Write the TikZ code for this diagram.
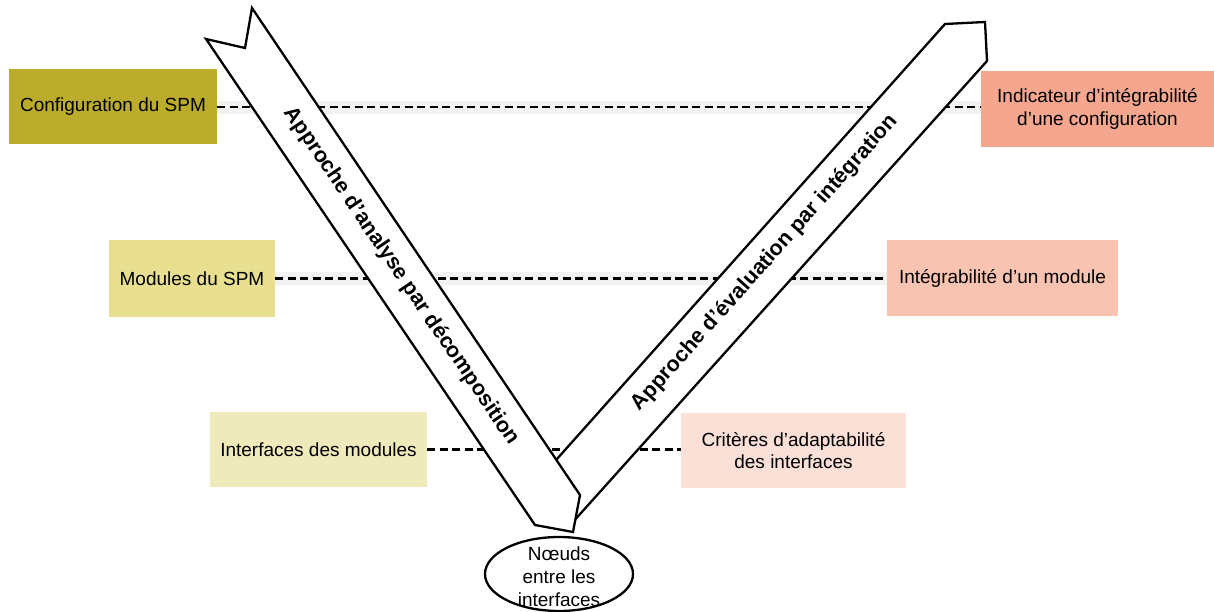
\documentclass[tikz,border=0pt]{standalone}
\usepackage{fontspec}
\setmainfont{Liberation Sans}
\usetikzlibrary{shapes.geometric}
\definecolor{cA}{HTML}{BBAD2B}
\definecolor{cB}{HTML}{E8DF90}
\definecolor{cC}{HTML}{EFEABB}
\definecolor{cD}{HTML}{F4A68F}
\definecolor{cE}{HTML}{F8C3B0}
\definecolor{cF}{HTML}{FBE0D7}
\tikzset{
  box/.style={draw=none, inner sep=0pt, align=center, font=\fontsize{19}{22.5}\selectfont},
  dashline/.style={line width=2.5pt, dash pattern=on 8pt off 4.5pt},
  band/.style={black!5},
  bigarrow/.style={draw=black, fill=white, line width=2.3pt, line join=miter},
  arrowlabel/.style={font=\bfseries\fontsize{21.5}{24}\selectfont, inner sep=0pt},
}
\begin{document}
\begin{tikzpicture}[x=1pt,y=-1pt]
\useasboundingbox (0,0) rectangle (1214,612);
% boxes
\node[box, fill=cA, minimum width=208pt, minimum height=75pt] (b1) at (113,106.5) {Configuration du SPM};
\node[box, fill=cB, minimum width=166pt, minimum height=77pt] (b2) at (192,278.5) {Modules du SPM};
\node[box, fill=cC, minimum width=217pt, minimum height=75pt] (b3) at (318.5,449.5) {Interfaces des modules};
\node[box, fill=cD, minimum width=233pt, minimum height=76pt] (b4) at (1097.5,109) {Indicateur d’intégrabilité\\d’une configuration};
\node[box, fill=cE, minimum width=231pt, minimum height=76pt] (b5) at (1002.5,278) {Intégrabilité d’un module};
\node[box, fill=cF, minimum width=225pt, minimum height=75pt] (b6) at (793.5,450.5) {Critères d’adaptabilité\\des interfaces};
% faint bands
\fill[band] (217,101) rectangle (981,114);
\fill[band] (275,272) rectangle (887,285);
% dashed connectors
\coordinate (d1) at (217,107);
\coordinate (d2) at (275,278.5);
\coordinate (d3) at (427,449.5);
\draw[dashline] (d1) -- (d1 -| b4.west);
\draw[dashline] (d2) -- (d2 -| b5.west);
\draw[dashline] (d3) -- (d3 -| b6.west);
% right arrow (behind)
\draw[bigarrow] (540,478) -- (945,24) -- (985,22) -- (987,61) -- (572,523) -- cycle;
% left arrow (front)
\draw[bigarrow] (206,39) -- (245,48) -- (252,8) -- (580,495) -- (573,532) -- (535,525) -- cycle;
% labels on arrows
\node[arrowlabel, rotate=-55.9] (la) at (401.5,276) {Approche d’analyse par décomposition};
\node[arrowlabel, rotate=48.27] (ra) at (765,263) {Approche d’évaluation par intégration};
% ellipse
\node[draw, line width=2.3pt, ellipse, minimum width=148pt, minimum height=74pt, inner sep=0pt] (el) at (559,574) {};
\node[box] (nt) at (559,576.5) {Nœuds\\[0.5pt]entre les\\[0.5pt]interfaces};
\end{tikzpicture}
\end{document}
